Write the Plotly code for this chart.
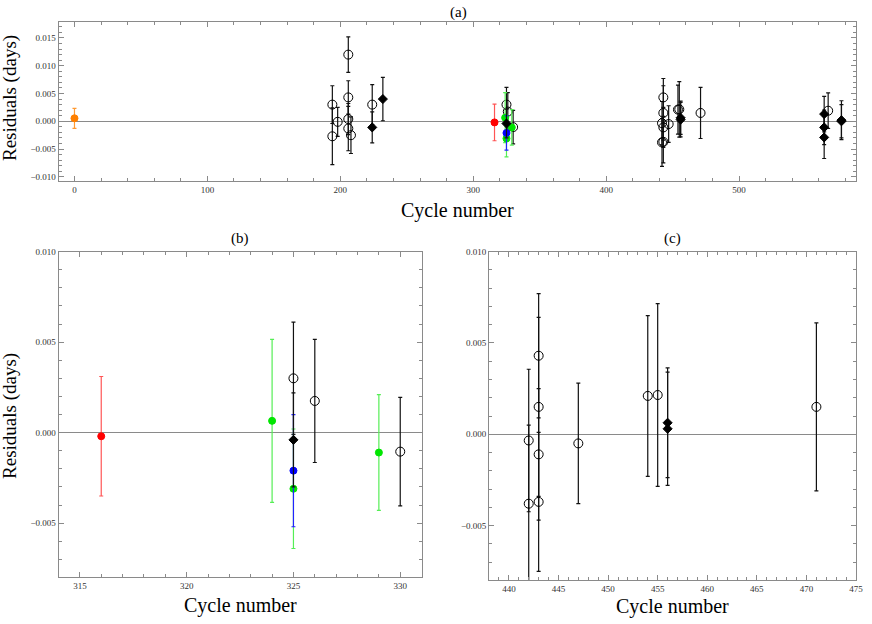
import plotly.graph_objects as go

# ---------------- data (cycle number, residual in days, 1-sigma error) ----------------
orange_cycle = [0]
orange_res = [0.00054]
orange_err = [0.0018]

red_cycle = [316]
red_res = [-0.0002]
red_err = [0.0033]

green_cycle = [324, 325, 329]
green_res = [0.00065, -0.0031, -0.0011]
green_err = [0.0045, 0.0033, 0.0032]

blue_cycle = [325]
blue_res = [-0.0021]
blue_err = [0.0031]

open_cycle = [194, 194, 198, 206, 206, 206, 206, 208, 224, 325, 326, 330,
              442, 442, 443, 443, 443, 443, 447, 454, 455, 471, 567]
open_res = [0.0030, -0.0027, -0.0001, 0.0120, 0.0043, 0.0004, -0.0013, -0.0025, 0.0030,
            0.0030, 0.00175, -0.00105,
            -0.00034, -0.0038, 0.0043, 0.0015, -0.0011, -0.0037, -0.0005, 0.0021, 0.00215,
            0.0015, 0.0019]
open_err = [0.0034, 0.0051, 0.0026, 0.0032, 0.0030, 0.0028, 0.0040, 0.0033, 0.0036,
            0.0031, 0.0034, 0.0030,
            0.0039, 0.0043, 0.0034, 0.0049, 0.0036, 0.0038, 0.0033, 0.0044, 0.0050,
            0.0046, 0.0032]

diam_cycle = [224, 232, 325, 456, 456, 564, 564, 564, 577, 577]
diam_res = [-0.0011, 0.0040, -0.0004, 0.00063, 0.0003, 0.0013, -0.0011, -0.0029, 0.0002, 0.0000]
diam_err = [0.0028, 0.0039, 0.0026, 0.0030, 0.0031, 0.0032, 0.0031, 0.0038, 0.0035, 0.0030]

panel_titles = ["(a)", "(b)", "(c)"]
x_title = "Cycle number"
y_title = "Residuals (days)"

# ---------------- figure ----------------
W, H = 872, 624
SERIF = "Liberation Serif"
AX = "#8a8a8a"

series = [
    dict(x=open_cycle, y=open_res, e=open_err, sym="circle-open", col="black", ecol="#111111", size=9),
    dict(x=orange_cycle, y=orange_res, e=orange_err, sym="circle", col="#ff8000", ecol="#ff9a33", size=7),
    dict(x=red_cycle, y=red_res, e=red_err, sym="circle", col="#ff0000", ecol="#ff5555", size=7),
    dict(x=green_cycle, y=green_res, e=green_err, sym="circle", col="#00e600", ecol="#55ee55", size=7),
    dict(x=blue_cycle, y=blue_res, e=blue_err, sym="circle", col="#0000ff", ecol="#2222ff", size=7),
    dict(x=diam_cycle, y=diam_res, e=diam_err, sym="diamond", col="black", ecol="#111111", size=7),
]

fig = go.Figure()
axes = [("x", "y"), ("x2", "y2"), ("x3", "y3")]
for xa, ya in axes:
    for s in series:
        fig.add_trace(go.Scatter(
            x=s["x"], y=s["y"], mode="markers", xaxis=xa, yaxis=ya,
            marker=dict(symbol=s["sym"], color=s["col"], size=s["size"],
                        line=dict(color=s["col"], width=1)),
            error_y=dict(type="data", array=s["e"], visible=True,
                         color=s["ecol"], thickness=1.2, width=2),
            showlegend=False, hoverinfo="x+y",
        ))


def px_x(p):
    return p / W


def px_y(p):
    return 1 - p / H


tickfont = dict(family=SERIF, size=9, color="#333333")


def xaxis(domain, rng, dtick, minor, anchor):
    return dict(domain=domain, range=rng, dtick=dtick, tick0=0, anchor=anchor,
                showline=True, linecolor=AX, linewidth=1, mirror="allticks",
                ticks="inside", ticklen=5, tickcolor=AX, tickwidth=1,
                minor=dict(dtick=minor, tick0=0, ticks="inside", ticklen=3, tickcolor=AX),
                showgrid=False, zeroline=False, tickfont=tickfont)


def yaxis(domain, rng, minor, anchor):
    return dict(domain=domain, range=rng, dtick=0.005, tick0=0, anchor=anchor,
                tickformat=".3f",
                showline=True, linecolor=AX, linewidth=1, mirror="allticks",
                ticks="inside", ticklen=5, tickcolor=AX, tickwidth=1,
                minor=dict(dtick=minor, tick0=0, ticks="inside", ticklen=3, tickcolor=AX),
                showgrid=False, zeroline=True, zerolinecolor="#8a8a8a", zerolinewidth=1,
                tickfont=tickfont)


fig.update_layout(
    width=W, height=H, margin=dict(l=0, r=0, t=0, b=0),
    paper_bgcolor="white", plot_bgcolor="white",
    xaxis=xaxis([px_x(59), px_x(863)], [-12, 588], 100, 20, "y"),
    yaxis=yaxis([px_y(178), px_y(17)], [-0.0108, 0.0179], 0.001, "x"),
    xaxis2=xaxis([px_x(59), px_x(425)], [314, 331], 5, 1, "y2"),
    yaxis2=yaxis([px_y(578), px_y(249)], [-0.008, 0.010], 0.001, "x2"),
    xaxis3=xaxis([px_x(493), px_x(863)], [438, 475], 5, 1, "y3"),
    yaxis3=yaxis([px_y(581), px_y(249)], [-0.008, 0.010], 0.001, "x3"),
)

ann = []
# panel titles
for t, (cx, cy) in zip(panel_titles, [(462, 8), (242, 236), (678, 236)]):
    ann.append(dict(text=t, x=px_x(cx), y=px_y(cy), xref="paper", yref="paper",
                    showarrow=False, font=dict(family=SERIF, size=15, color="black"),
                    xanchor="center", yanchor="middle"))
# x titles
for cx, cy in [(461, 208), (242, 606), (678, 607)]:
    ann.append(dict(text=x_title, x=px_x(cx), y=px_y(cy), xref="paper", yref="paper",
                    showarrow=False, font=dict(family=SERIF, size=20, color="black"),
                    xanchor="center", yanchor="middle"))
# y titles
for cx, cy in [(10, 94), (10, 415)]:
    ann.append(dict(text=y_title, x=px_x(cx), y=px_y(cy), xref="paper", yref="paper",
                    showarrow=False, textangle=-90,
                    font=dict(family=SERIF, size=19, color="black"),
                    xanchor="center", yanchor="middle"))
fig.update_layout(annotations=ann)

fig.write_html("out.html", config={"displayModeBar": False},
               post_script="document.body.style.margin='0';document.body.style.padding='0';")
